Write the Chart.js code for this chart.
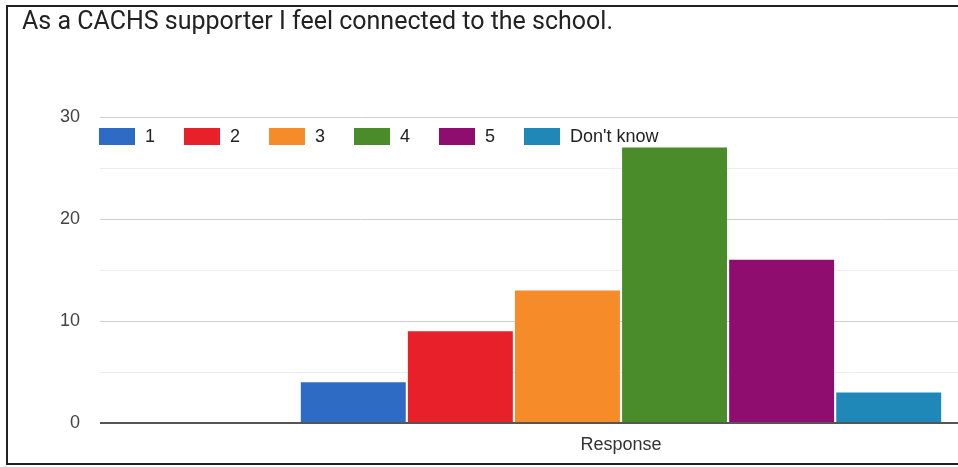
<!DOCTYPE html>
<html>
<head>
<meta charset="utf-8">
<script src="https://cdn.jsdelivr.net/npm/chart.js@4.4.1/dist/chart.umd.min.js"></script>
<style>
  body { margin: 0; background: #fff; }
  #wrap { position: relative; width: 958px; height: 467px; overflow: hidden; background: #fff; }
  #chart { position: absolute; left: 0; top: 0; }
  #frame { position: absolute; left: 6px; top: 5px; width: 1100px; height: 456px; border: 2px solid #222; pointer-events: none; }
  #legend { position: absolute; left: 99px; top: 128px; display: flex; font-family: "Liberation Sans", Arial, sans-serif; font-size: 18px; color: #222; }
  .item { display: flex; align-items: center; height: 17px; margin-right: 29px; }
  .box { width: 36px; height: 17px; margin-right: 10px; }
</style>
</head>
<body>
<div id="wrap">
  <canvas id="chart" width="1150" height="467"></canvas>
  <div id="legend"></div>
  <div id="frame"></div>
</div>
<script>
// answers to "As a CACHS supporter I feel connected to the school."
const categories = ['Response'];
const seriesNames = ['1', '2', '3', '4', '5', "Don't know"];
const seriesValues = [4, 9, 13, 27, 16, 3];
const seriesColors = ['#2e6bc4', '#e8202a', '#f68b2a', '#4a8c2a', '#8e0d6e', '#1f88b8'];
const yTicks = [0, 10, 20, 30];

const datasets = seriesNames.map((name, i) => ({
  label: name,
  data: [seriesValues[i]],
  backgroundColor: seriesColors[i],
  barPercentage: 0.98,
  categoryPercentage: 0.6166
}));

// legend as plain html, built from the same arrays
const legendDiv = document.getElementById('legend');
seriesNames.forEach((name, i) => {
  const item = document.createElement('div');
  item.className = 'item';
  const box = document.createElement('span');
  box.className = 'box';
  box.style.background = seriesColors[i];
  item.appendChild(box);
  item.appendChild(document.createTextNode(name));
  legendDiv.appendChild(item);
});

new Chart(document.getElementById('chart'), {
  type: 'bar',
  data: { labels: categories, datasets: datasets },
  options: {
    responsive: false,
    animation: false,
    layout: { padding: { left: 22, right: 8, top: 0, bottom: 0 } },
    plugins: {
      legend: { display: false },
      tooltip: { enabled: false },
      title: {
        display: true,
        text: 'As a CACHS supporter I feel connected to the school.',
        align: 'start',
        color: '#222',
        font: { family: 'Roboto', size: 25, weight: 'normal' },
        padding: { top: 8, bottom: 79 }
      }
    },
    scales: {
      x: {
        grid: { display: false, drawTicks: false },
        border: { display: false },
        ticks: {
          color: '#333',
          padding: 13,
          font: { family: 'Liberation Sans', size: 18, lineHeight: 1 }
        }
      },
      y: {
        min: 0,
        max: yTicks[yTicks.length - 1],
        afterFit: (scale) => { scale.width = 78; },
        border: { display: false },
        grid: {
          drawTicks: false,
          color: (ctx) => ctx.tick.value === 0 ? '#555' : (yTicks.includes(ctx.tick.value) ? '#cfcfcf' : '#ededed'),
          lineWidth: (ctx) => ctx.tick.value === 0 ? 2 : 1
        },
        ticks: {
          stepSize: 5,
          padding: 20,
          color: '#444',
          font: { family: 'Liberation Sans', size: 18 },
          callback: (v) => yTicks.includes(v) ? v : ''
        }
      }
    }
  }
});
</script>
</body>
</html>
